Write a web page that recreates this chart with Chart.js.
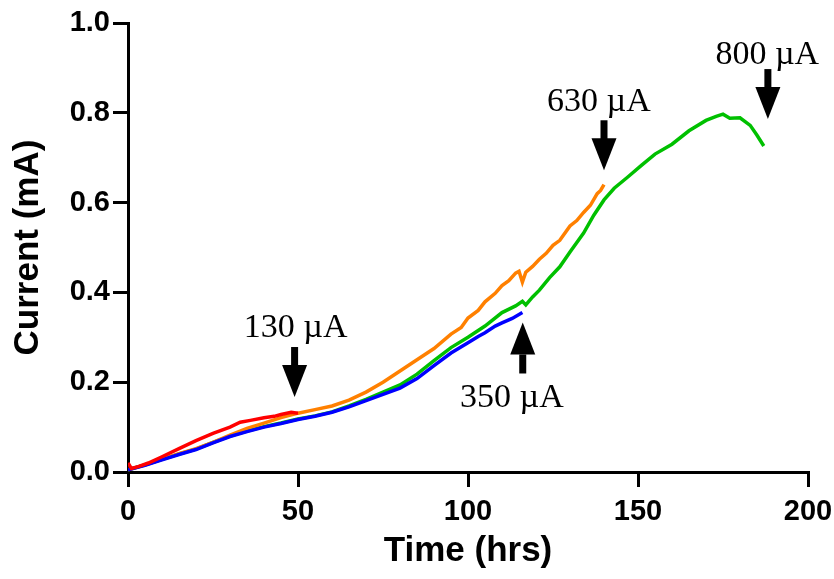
<!DOCTYPE html>
<html>
<head>
<meta charset="utf-8">
<script src="https://cdn.jsdelivr.net/npm/chart.js@4.4.1/dist/chart.umd.min.js"></script>
<style>
  html, body { margin: 0; padding: 0; background: #fff; }
  #wrap { width: 834px; height: 579px; }
</style>
</head>
<body>
<div id="wrap"><canvas id="chart" width="834" height="579"></canvas></div>
<script>
// current vs time, four runs
const redTime = [0, 1, 3, 6, 10, 15, 20, 25, 30, 33, 36, 40, 43, 45, 48, 50];
const redCurrent = [0.02, 0.008, 0.012, 0.02, 0.034, 0.052, 0.07, 0.086, 0.1, 0.111, 0.115, 0.121, 0.124, 0.128, 0.133, 0.131];

const blueTime = [0, 5, 10, 15, 20, 25, 30, 35, 40, 45, 50, 55, 60, 65, 70, 75, 80, 85, 90, 95, 100, 103, 105, 108, 110, 113, 116];
const blueCurrent = [0.005, 0.015, 0.027, 0.039, 0.05, 0.065, 0.079, 0.09, 0.1, 0.108, 0.117, 0.124, 0.133, 0.145, 0.159, 0.173, 0.187, 0.208, 0.237, 0.265, 0.288, 0.302, 0.31, 0.325, 0.332, 0.342, 0.355];

const orangeTime = [0, 5, 10, 15, 20, 25, 30, 35, 40, 45, 50, 55, 60, 65, 70, 75, 80, 85, 90, 95, 98, 100, 103, 105, 108, 110, 112, 114, 115, 116, 117, 119, 121, 123, 125, 127, 130, 132, 134, 136, 138, 139, 140];
const orangeCurrent = [0.005, 0.016, 0.028, 0.041, 0.052, 0.066, 0.082, 0.097, 0.109, 0.121, 0.131, 0.139, 0.147, 0.16, 0.178, 0.2, 0.225, 0.25, 0.275, 0.307, 0.322, 0.343, 0.36, 0.379, 0.398, 0.415, 0.426, 0.443, 0.447, 0.423, 0.445, 0.458, 0.474, 0.487, 0.505, 0.516, 0.548, 0.56, 0.578, 0.594, 0.62, 0.627, 0.64];

const greenTime = [0, 5, 10, 15, 20, 25, 30, 35, 40, 45, 50, 55, 60, 65, 70, 75, 80, 85, 90, 95, 100, 105, 110, 114, 116, 117, 119, 121, 124, 127, 130, 134, 137, 140, 143, 147, 151, 155, 160, 165, 170, 173, 175, 177, 180, 183, 185, 187];
const greenCurrent = [0.005, 0.016, 0.028, 0.04, 0.051, 0.066, 0.08, 0.091, 0.101, 0.109, 0.118, 0.125, 0.134, 0.147, 0.162, 0.178, 0.194, 0.218, 0.248, 0.277, 0.3, 0.325, 0.355, 0.37, 0.38, 0.372, 0.39, 0.405, 0.433, 0.457, 0.49, 0.532, 0.572, 0.606, 0.632, 0.657, 0.683, 0.708, 0.73, 0.76, 0.783, 0.792, 0.797, 0.788, 0.789, 0.772, 0.75, 0.726];

const xTicks = [0, 50, 100, 150, 200];
const yTicks = [0.0, 0.2, 0.4, 0.6, 0.8, 1.0];

// arrow labels
const noteText = ['130 \u00b5A', '350 \u00b5A', '630 \u00b5A', '800 \u00b5A'];
const noteArrowX = [49, 116.1, 140, 188.2];
const noteArrowTip = [0.167, 0.333, 0.672, 0.786];
const noteTextX = [49.3, 112.9, 138.5, 188];
const noteTextY = [0.301, 0.145, 0.804, 0.908];
const noteDown = [true, false, true, true];

function pairs(xs, ys) {
  return xs.map((x, i) => ({ x: x, y: ys[i] }));
}

const SANS = "'Liberation Sans', Arial, sans-serif";
const SERIF = "'Liberation Serif', 'Times New Roman', serif";

function line(label, xs, ys, color) {
  return {
    label: label,
    data: pairs(xs, ys),
    borderColor: color,
    backgroundColor: color,
    borderWidth: 3.5,
    pointRadius: 0,
    tension: 0,
    fill: false
  };
}

const arrowNotes = {
  id: 'arrowNotes',
  afterDatasetsDraw(chart) {
    const ctx = chart.ctx;
    const xs = chart.scales.x, ys = chart.scales.y;
    ctx.save();
    ctx.fillStyle = '#000';
    noteText.forEach((txt, i) => {
      const tx = xs.getPixelForValue(noteArrowX[i]);
      const ty = ys.getPixelForValue(noteArrowTip[i]);
      const dir = noteDown[i] ? 1 : -1;
      const headStart = ty - dir * 32;
      const tail = ty - dir * 50;
      ctx.fillRect(tx - 3.5, Math.min(tail, headStart), 7, Math.abs(headStart - tail) + 1);
      ctx.beginPath();
      ctx.moveTo(tx - 12.5, headStart);
      ctx.lineTo(tx + 12.5, headStart);
      ctx.lineTo(tx, ty);
      ctx.closePath();
      ctx.fill();

      ctx.font = '34px ' + SERIF;
      ctx.textAlign = 'center';
      ctx.textBaseline = 'alphabetic';
      ctx.fillText(txt, xs.getPixelForValue(noteTextX[i]), ys.getPixelForValue(noteTextY[i]));
    });
    ctx.restore();
  }
};

const axisGrid = {
  drawOnChartArea: false,
  drawTicks: true,
  tickLength: 15,
  lineWidth: 3,
  color: '#000'
};
const axisBorder = { display: true, width: 3, color: '#000' };

new Chart(document.getElementById('chart'), {
  type: 'line',
  data: {
    datasets: [
      line('red', redTime, redCurrent, '#ff0000'),
      line('blue', blueTime, blueCurrent, '#0000ff'),
      line('orange', orangeTime, orangeCurrent, '#ff8000'),
      line('green', greenTime, greenCurrent, '#00c000')
    ]
  },
  options: {
    responsive: false,
    animation: false,
    layout: { padding: { top: 23, right: 26, bottom: 0, left: 0 } },
    plugins: {
      legend: { display: false },
      tooltip: { enabled: false }
    },
    scales: {
      x: {
        type: 'linear',
        min: 0,
        max: 200,
        afterBuildTicks: s => { s.ticks = xTicks.map(v => ({ value: v })); },
        ticks: {
          color: '#000',
          padding: 8,
          maxRotation: 0,
          font: { family: SANS, size: 29, weight: 'bold' }
        },
        grid: axisGrid,
        border: axisBorder,
        title: {
          display: true,
          text: 'Time (hrs)',
          color: '#000',
          font: { family: SANS, size: 35, weight: 'bold' },
          padding: { top: 0, bottom: 7 }
        },
        afterFit: s => {
          s.height = 107;
          // last tick label may hang into the layout padding
          s.paddingLeft = 0;
          s.paddingRight = 0;
        }
      },
      y: {
        type: 'linear',
        min: 0,
        max: 1,
        afterBuildTicks: s => { s.ticks = yTicks.map(v => ({ value: v })); },
        ticks: {
          color: '#000',
          padding: 3,
          font: { family: SANS, size: 29, weight: 'bold' },
          callback: v => v.toFixed(1)
        },
        grid: axisGrid,
        border: axisBorder,
        title: {
          display: true,
          text: 'Current (mA)',
          color: '#000',
          font: { family: SANS, size: 35, weight: 'bold' },
          padding: { top: 7, bottom: 0 }
        },
        afterFit: s => { s.width = 128; }
      }
    }
  },
  plugins: [arrowNotes]
});
</script>
</body>
</html>
